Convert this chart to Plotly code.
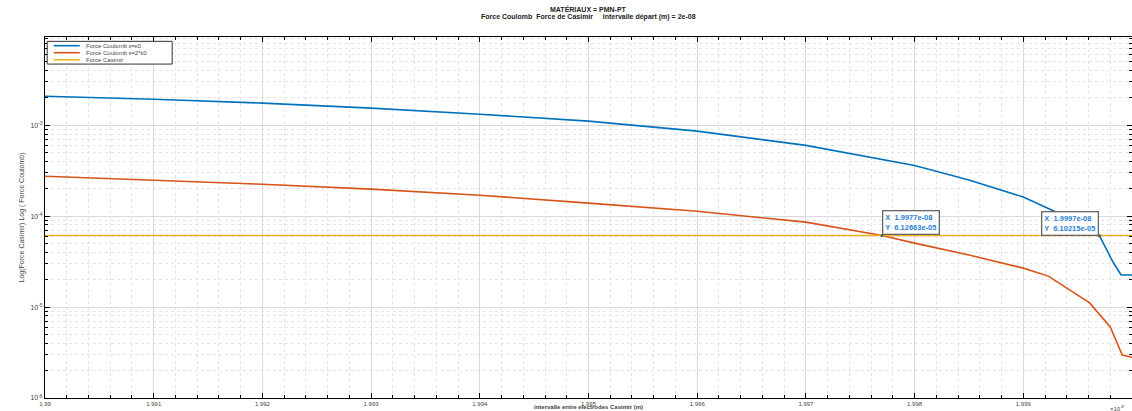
import math
import plotly.graph_objects as go

# x values in units of 1e-8 m
x_blue = [1.99, 1.991, 1.992, 1.993, 1.994, 1.995, 1.996, 1.997, 1.998, 1.9985,
          1.999, 1.9993, 1.9997, 1.99983, 1.9999, 2.0]
y_blue = [2.08e-3, 1.93e-3, 1.75e-3, 1.54e-3, 1.32e-3, 1.11e-3, 8.6e-4, 6.0e-4,
          3.6e-4, 2.5e-4, 1.62e-4, 1.11e-4, 6.10e-5, 3.05e-5, 2.25e-5, 2.25e-5]

x_red = [1.99, 1.991, 1.992, 1.993, 1.994, 1.995, 1.996, 1.997, 1.9977, 1.998,
         1.9985, 1.999, 1.99923, 1.99961, 1.9998, 1.99991, 2.0]
y_red = [2.75e-4, 2.49e-4, 2.24e-4, 1.98e-4, 1.70e-4, 1.39e-4, 1.13e-4, 8.6e-5,
         6.13e-5, 5.05e-5, 3.73e-5, 2.68e-5, 2.19e-5, 1.11e-5, 6.04e-6, 2.97e-6, 2.8e-6]

x_cas = [1.99, 2.0]
y_cas = [6.12663e-5, 6.12663e-5]

names = ["Force Coulomb ε=ε0", "Force Coulomb ε=2*ε0", "Force Casimir"]
colors = ["#0072BD", "#D95319", "#EDB120"]

tip_x = [1.9977, 1.9997]
tip_y = [6.12663e-5, 6.10215e-5]
tip_text = ["X  1.9977e-08<br>Y  6.12663e-05", "X  1.9997e-08<br>Y  6.10215e-05"]

x_ticks = [1.99, 1.991, 1.992, 1.993, 1.994, 1.995, 1.996, 1.997, 1.998, 1.999]
x_labels = ["1.99", "1.991", "1.992", "1.993", "1.994", "1.995", "1.996", "1.997", "1.998", "1.999"]
x_minor = [round(1.99 + k * 0.0002, 4) for k in range(51) if k % 5 != 0]
y_ticks = [1e-6, 1e-5, 1e-4, 1e-3]
y_labels = ["10<sup>-6</sup>", "10<sup>-5</sup>", "10<sup>-4</sup>", "10<sup>-3</sup>"]
y_minor = [m * 10.0 ** e for e in range(-6, -2) for m in range(2, 10)]

title_lines = ["<b>MATÉRIAUX = PMN-PT</b>",
               "<b>Force Coulomb  Force de Casimir     intervalle départ (m) = 2e-08</b>"]

fig = go.Figure()
for xs, ys, nm, c in zip([x_blue, x_red, x_cas], [y_blue, y_red, y_cas], names, colors):
    fig.add_trace(go.Scatter(x=xs, y=ys, mode="lines", name=nm,
                             line=dict(color=c, width=1.6), showlegend=False))

fig.add_trace(go.Scatter(x=tip_x, y=tip_y, mode="markers", showlegend=False,
                         marker=dict(color="#555555", size=3)))

for i, (tx, ty, tt) in enumerate(zip(tip_x, tip_y, tip_text)):
    fig.add_annotation(x=tx, y=math.log10(ty), yref="y", xref="x", text="<b>" + tt + "</b>",
                       showarrow=False, xanchor="left" if i == 0 else "right",
                       yanchor="bottom", align="left",
                       font=dict(family="Arial", size=7.5, color="#2a7fd4"),
                       bgcolor="white", bordercolor="#666666", borderwidth=1.3,
                       borderpad=2)

# legend drawn as a box in the top-left corner of the axes
lg_x0, lg_x1, lg_y0, lg_y1 = 0.002, 0.117, 0.925, 0.988
fig.add_shape(type="rect", xref="paper", yref="paper", x0=lg_x0, x1=lg_x1, y0=lg_y0, y1=lg_y1,
              line=dict(color="#333333", width=1), fillcolor="white", layer="above")
for k, (nm, c) in enumerate(zip(names, colors)):
    yy = 0.976 - k * 0.0195
    fig.add_shape(type="line", xref="paper", yref="paper", x0=0.008, x1=0.032, y0=yy, y1=yy,
                  line=dict(color=c, width=1.6), layer="above")
    fig.add_annotation(xref="paper", yref="paper", x=0.036, y=yy, text=nm, showarrow=False,
                       xanchor="left", yanchor="middle",
                       font=dict(family="Arial", size=6, color="#444444"))

grid = "#d9d9d9"
fig.update_xaxes(range=[1.99, 2.0], tickvals=x_ticks, ticktext=x_labels,
                 ticks="inside", ticklen=5, tickcolor="black",
                 showline=True, linecolor="black", linewidth=1, mirror="ticks",
                 showgrid=True, gridcolor=grid, gridwidth=1, zeroline=False,
                 minor=dict(tickmode="array", tickvals=x_minor, ticks="inside", ticklen=3,
                            tickcolor="black", showgrid=True, gridcolor="#e4e4e4",
                            griddash="dot"),
                 tickfont=dict(family="Arial", size=6, color="#444444"),
                 ticklabelstandoff=0)
fig.update_yaxes(type="log", range=[-6, -2.03], tickvals=y_ticks, ticktext=y_labels,
                 ticks="inside", ticklen=5, tickcolor="black",
                 showline=True, linecolor="black", linewidth=1, mirror="ticks",
                 showgrid=True, gridcolor=grid, gridwidth=1, zeroline=False,
                 minor=dict(tickmode="array", tickvals=y_minor, ticks="inside", ticklen=3,
                            tickcolor="black", showgrid=True, gridcolor="#e4e4e4",
                            griddash="dot"),
                 tickfont=dict(family="Arial", size=7, color="#444444"),
                 title=dict(text="Log(Force Casimir) Log ( Force Coulomb)",
                            font=dict(family="Arial", size=7, color="#444444"), standoff=4))

fig.add_annotation(xref="paper", yref="paper", x=0.5, y=-0.038,
                   text="<b>intervalle entre electrodes Casimir (m)</b>",
                   showarrow=False, xanchor="center", yanchor="bottom",
                   font=dict(family="Arial", size=6, color="#444444"))

fig.add_annotation(xref="paper", yref="paper", x=0.995, y=-0.012, text="×10<sup>-8</sup>",
                   showarrow=False, xanchor="right", yanchor="top",
                   font=dict(family="Arial", size=6, color="#444444"))

for j, (line, py) in enumerate(zip(title_lines, [9, 17])):
    fig.add_annotation(xref="paper", yref="paper", x=0.5, y=(398 - py) / 361, text=line,
                       showarrow=False, xanchor="center", yanchor="middle",
                       font=dict(family="Arial", size=7, color="#222222"))

fig.update_layout(
    width=1132, height=411,
    margin=dict(l=45, r=0, t=37, b=13),
    paper_bgcolor="white", plot_bgcolor="white",
    showlegend=False,
)

fig.write_html("out.html")
